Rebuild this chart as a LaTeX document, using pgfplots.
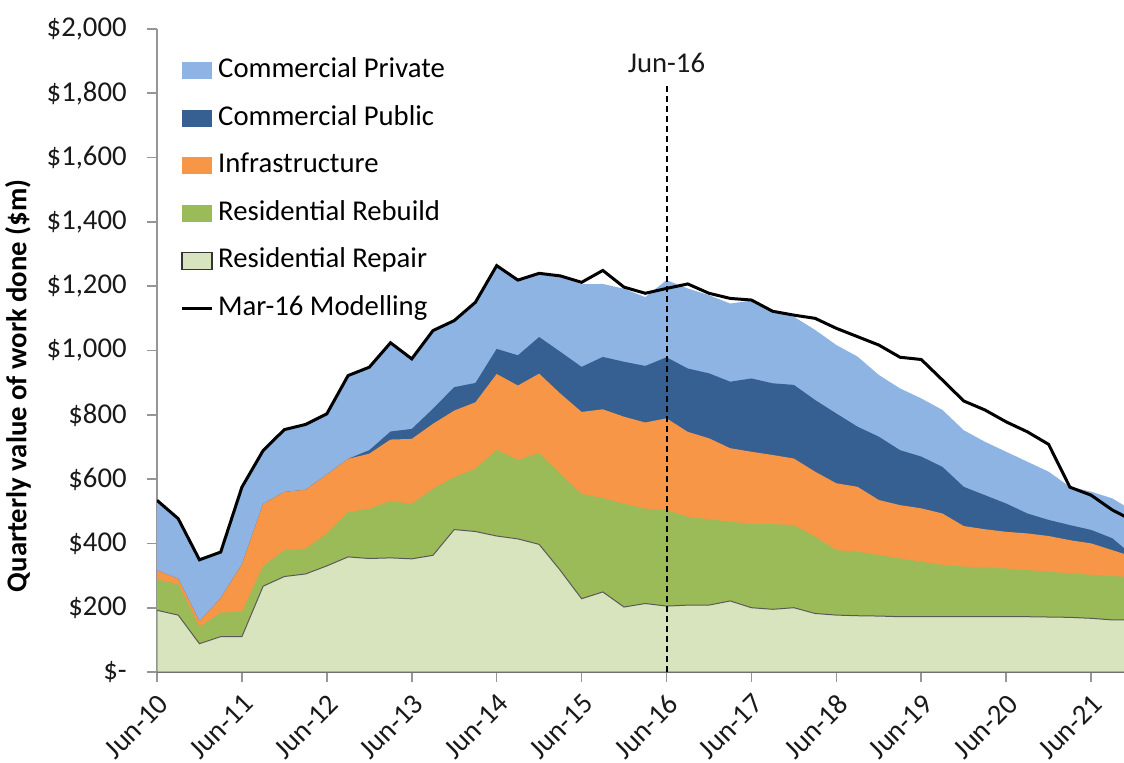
\documentclass[border=0pt]{standalone}
\usepackage{pgfplots}
\pgfplotsset{compat=1.18}
\usepackage{pgfplotstable}
\usepackage{fontspec}
\setmainfont{Carlito}
\definecolor{cpriv}{RGB}{142,180,227}
\definecolor{cpub}{RGB}{55,96,146}
\definecolor{infra}{RGB}{247,150,70}
\definecolor{rebuild}{RGB}{155,187,89}
\definecolor{repair}{RGB}{215,228,189}
\definecolor{axgray}{RGB}{150,150,150}

\pgfplotsset{
  areaimg/.style={legend image code/.code={\path[##1] (0bp,-4.25bp) rectangle (15bp,4.25bp);}},
  repimg/.style={legend image code/.code={\path[##1, draw=black!80, line width=0.8bp] (0bp,-4.25bp) rectangle (15bp,4.25bp);}},
  lineimg/.style={legend image code/.code={\draw[##1] (0bp,0bp) -- (15bp,0bp);}},
}

\pgfplotstableread{
q line total pub inf reb rep
0 534 534 316 316 288 192
1 477 477 290 290 273 177
2 349 349 158 158 140 88
3 373 373 230 230 185 110
4 575 575 335 335 187 110
5 689 689 523 523 330 267
6 754 754 560 560 379 297
7 770 770 567 567 384 305
8 803 803 614 614 430 330
9 922 922 663 663 497 358
10 948 948 690 679 508 353
11 1024 1024 748 723 532 355
12 974 974 756 725 523 352
13 1062 1062 819 772 570 363
14 1093 1093 886 813 606 443
15 1150 1150 899 839 632 437
16 1264 1264 1005 927 691 423
17 1219 1219 985 891 660 414
18 1240 1240 1042 928 681 397
19 1232 1228 996 866 616 316
20 1212 1206 949 809 554 228
21 1249 1207 980 817 541 249
22 1197 1192 965 794 523 202
23 1178 1166 952 776 508 213
24 1193 1219 979 789 504 205
25 1207 1193 944 747 483 208
26 1178 1172 929 727 475 208
27 1162 1146 903 696 468 221
28 1157 1155 913 685 460 200
29 1122 1120 898 675 460 195
30 1110 1105 893 664 457 200
31 1100 1064 846 623 421 182
32 1069 1017 804 587 379 177
33 1043 981 763 576 374 175
34 1017 924 732 535 364 174
35 979 882 690 519 353 172
36 972 851 670 509 343 172
37 908 815 638 493 333 172
38 843 752 576 454 328 172
39 815 716 550 444 325 172
40 778 685 524 436 322 172
41 747 654 493 431 317 172
42 708 623 473 423 312 171
43 575 576 457 410 307 170
44 550 561 442 400 302 167
45 504 540 416 379 298 162
46 470 500 360 358 296 162
}\datatable

\begin{document}
\begin{tikzpicture}
\begin{axis}[
  name=ax,
  scale only axis,
  width=483.5bp, height=321.5bp,
  xmin=0, xmax=45.55, ymin=0, ymax=2000,
  axis x line*=bottom, axis y line*=left,
  axis line style={-, draw=axgray, line width=0.8bp},
  xtick={0,4,...,44},
  xticklabels={Jun-10,Jun-11,Jun-12,Jun-13,Jun-14,Jun-15,Jun-16,Jun-17,Jun-18,Jun-19,Jun-20,Jun-21},
  ytick={0,200,...,2000},
  yticklabels={\$-,\$200,\$400,\$600,\$800,{\$1,000},{\$1,200},{\$1,400},{\$1,600},{\$1,800},{\$2,000}},
  tick align=outside, major tick length=5bp,
  tick style={draw=axgray, line width=0.8bp},
  every tick label/.append style={font=\fontsize{14.4}{17}\selectfont, text=black!90},
  xticklabel style={rotate=45, anchor=north east, inner sep=0pt},
  xticklabel shift=5bp,
  yticklabel style={anchor=east, inner sep=0pt, xshift=-10bp},
  every axis y label/.style={at={(axis description cs:0,0.445)}, xshift=-69.5bp, rotate=90, anchor=center,
     font=\fontsize{14.4}{17}\selectfont\bfseries},
  ylabel={Quarterly value of work done (\$m)},
  legend style={at={(rel axis cs:0.024,0.955)}, anchor=north west, draw=none, fill=none,
     inner sep=0pt, outer sep=0pt, row sep=10.75bp,
     font=\fontsize{14.4}{17}\selectfont,
     nodes={inner xsep=2.5bp, inner ysep=0pt, text height=10bp, text depth=3bp}},
  legend cell align=left,
  clip=true,
]
\addplot[fill=cpriv, draw=none, areaimg]
  table[x=q,y=total]{\datatable} \closedcycle;
\addlegendentry{Commercial Private}
\addplot[fill=cpub, draw=none, areaimg]
  table[x=q,y=pub]{\datatable} \closedcycle;
\addlegendentry{Commercial Public}
\addplot[fill=infra, draw=none, areaimg]
  table[x=q,y=inf]{\datatable} \closedcycle;
\addlegendentry{Infrastructure}
\addplot[fill=rebuild, draw=none, areaimg]
  table[x=q,y=reb]{\datatable} \closedcycle;
\addlegendentry{Residential Rebuild}
\addplot[fill=repair, draw=black!65, line width=0.5bp, repimg]
  table[x=q,y=rep]{\datatable} \closedcycle;
\addlegendentry{Residential Repair}
\addplot[black, line width=1bp, dash pattern=on 3bp off 2bp, forget plot]
  coordinates {(24,0) (24,1825)};
\addplot[black, line width=1.5bp, mark=none, lineimg]
  table[x=q,y=line]{\datatable};
\addlegendentry{Mar-16 Modelling}
\node[font=\fontsize{14.4}{17}\selectfont, text=black!90] at (axis cs:24,1895) {Jun-16};
\end{axis}
\pgfresetboundingbox
\path[use as bounding box] ([shift={(-78.5bp,-45.5bp)}]ax.south west) rectangle ([shift={(0bp,14.5bp)}]ax.north east);
\end{tikzpicture}
\end{document}
